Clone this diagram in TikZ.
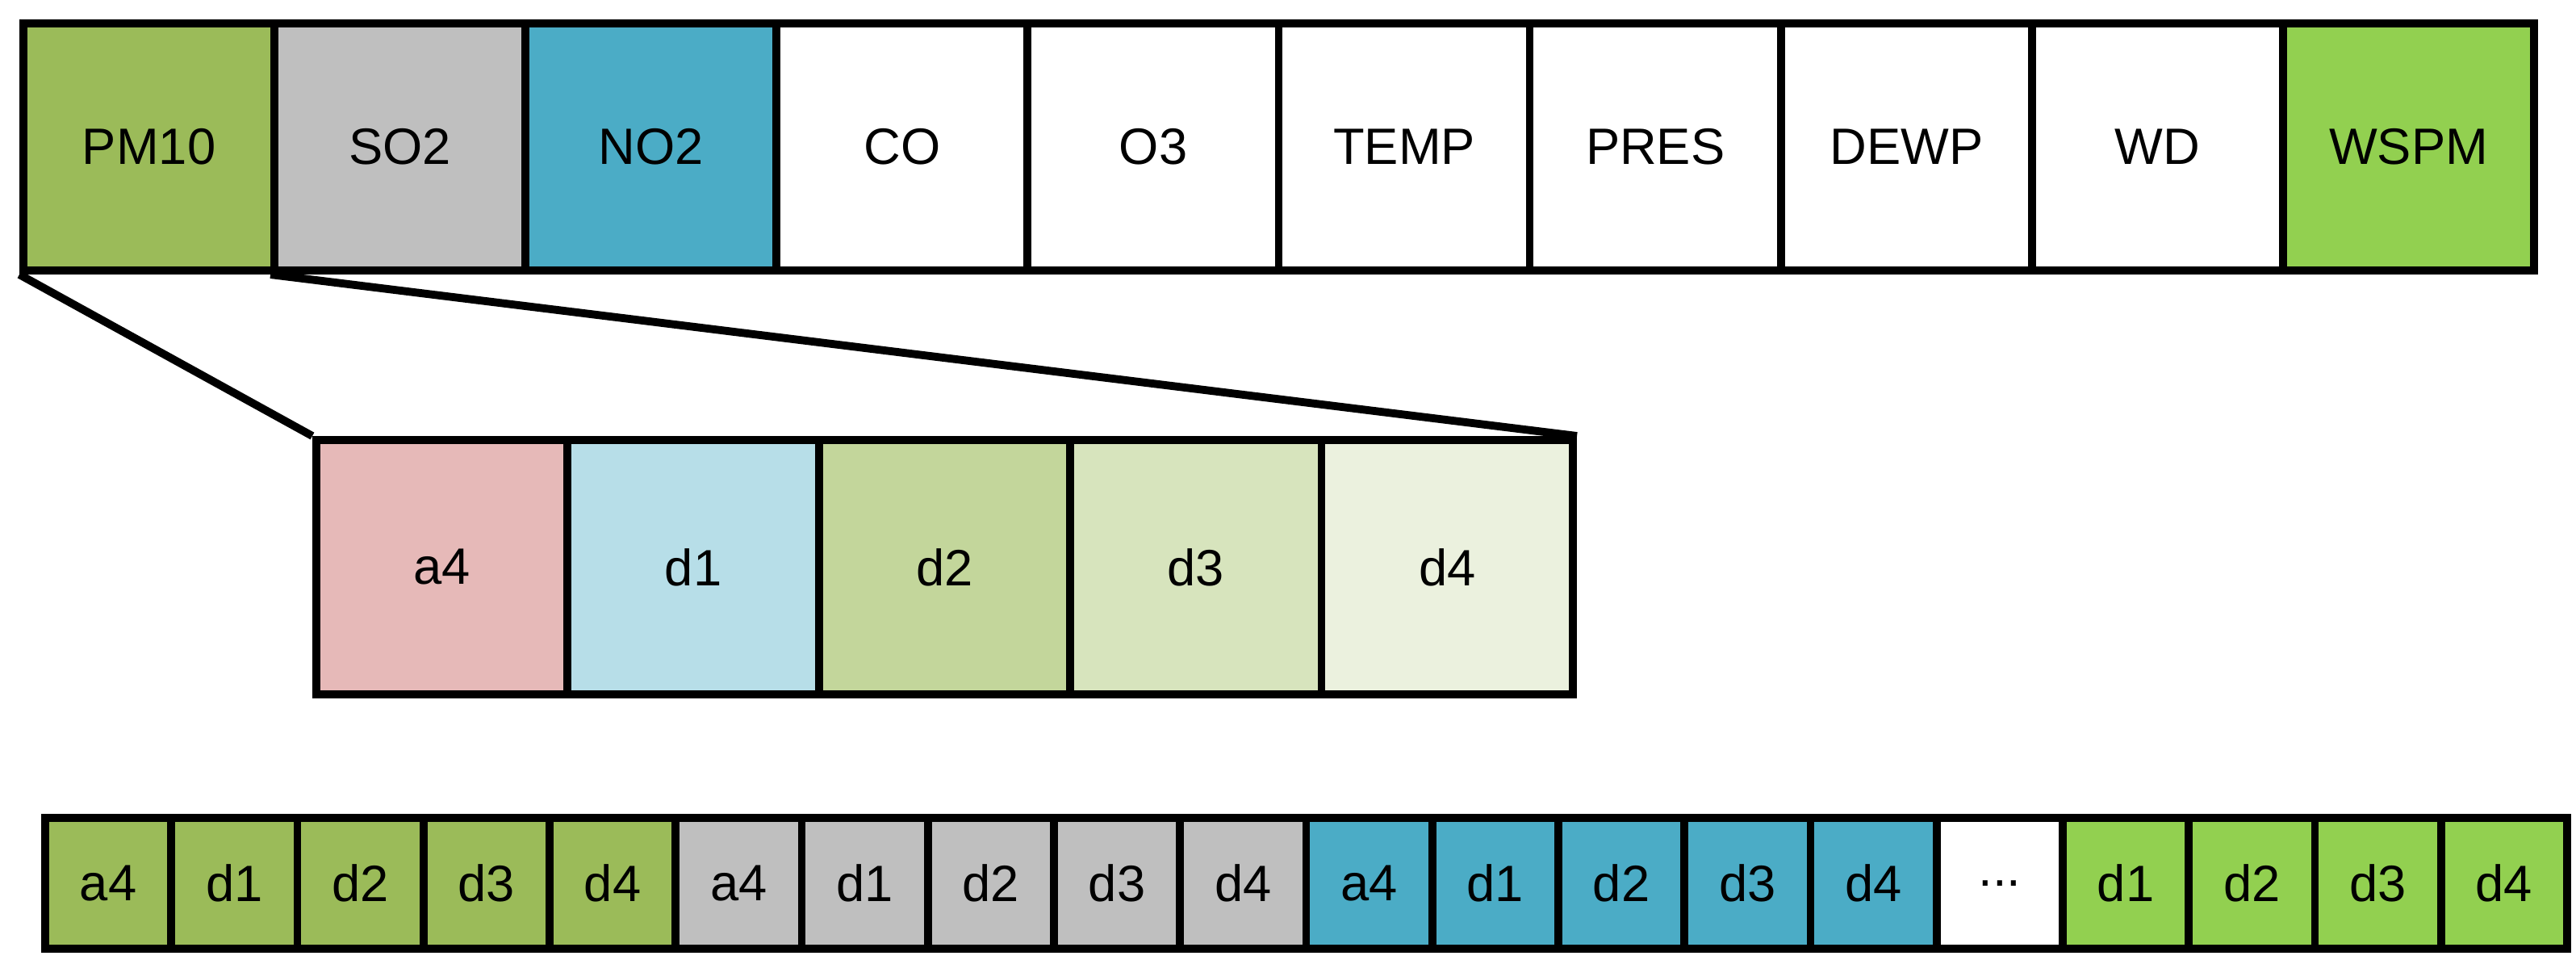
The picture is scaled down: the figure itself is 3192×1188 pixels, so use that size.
\documentclass[tikz,border=0pt]{standalone}
\usepackage{fontspec}
\setmainfont{Liberation Sans}
\newcommand\mydots{...}
\begin{document}
\begin{tikzpicture}[x=0.01cm,y=-0.01cm,
 cell/.style={draw=black,line width=2.8pt,minimum width=#1,minimum height=0pt,inner sep=0pt,font=\fontsize{18}{20}\selectfont,anchor=north west},
 ln/.style={line width=2.8pt}]
\useasboundingbox (0,0) rectangle (3192,1188);
\definecolor{pm}{HTML}{9BBB59}\definecolor{so}{HTML}{BFBFBF}\definecolor{no}{HTML}{4BACC6}\definecolor{ws}{HTML}{92D050}
\definecolor{ca}{HTML}{E6B9B8}\definecolor{c1}{HTML}{B7DEE8}\definecolor{c2}{HTML}{C3D69B}\definecolor{c3}{HTML}{D7E4BD}\definecolor{c4}{HTML}{EBF1DE}
% top row
\foreach \t/\c [count=\i from 0] in {PM10/pm,SO2/so,NO2/no,CO/white,O3/white,TEMP/white,PRES/white,DEWP/white,WD/white,WSPM/ws}
 \node[cell=3.111cm,minimum height=3.06cm,fill=\c] (t\i) at ({24+311.1*\i},24) {\t};
% middle row
\foreach \t/\c [count=\i from 0] in {a4/ca,d1/c1,d2/c2,d3/c3,d4/c4}
 \node[cell=3.114cm,minimum height=3.15cm,fill=\c] (m\i) at ({387+311.4*\i},540) {\t};
% bottom row
\foreach \t/\c [count=\i from 0] in {a4/pm,d1/pm,d2/pm,d3/pm,d4/pm,a4/so,d1/so,d2/so,d3/so,d4/so,a4/no,d1/no,d2/no,d3/no,d4/no,\mydots/white,d1/ws,d2/ws,d3/ws,d4/ws}
 \node[cell=1.5625cm,minimum height=1.62cm,fill=\c] (b\i) at ({51+156.25*\i},1008) {\t};
\draw[ln] (t0.south west) -- (m0.north west);
\draw[ln] (t1.south west) -- (m4.north east);
\end{tikzpicture}
\end{document}
